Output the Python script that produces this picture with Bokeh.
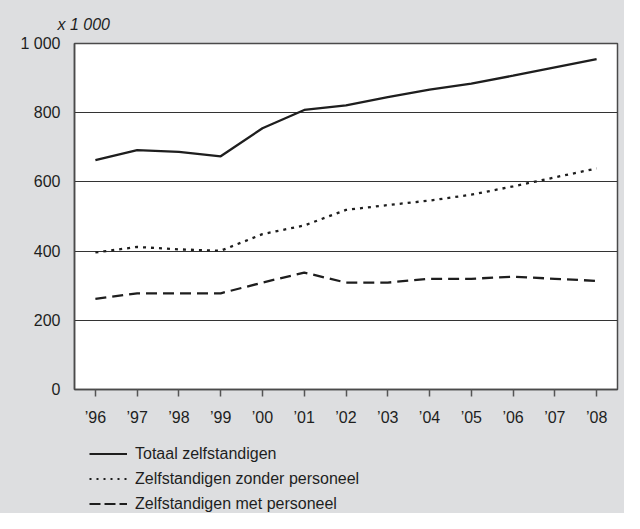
from bokeh.plotting import figure
from bokeh.models import Range1d, FactorRange, Title, Legend, LegendItem, FixedTicker
from bokeh.layouts import column
from bokeh.embed import file_html
from bokeh.resources import INLINE

years = ["’96", "’97", "’98", "’99", "’00", "’01", "’02", "’03", "’04", "’05", "’06", "’07", "’08"]
totaal = [663, 692, 687, 674, 755, 808, 821, 845, 867, 884, 907, 931, 955]
zonder = [396, 412, 405, 401, 449, 474, 519, 533, 546, 563, 587, 613, 639]
met = [262, 278, 278, 278, 309, 338, 309, 309, 320, 320, 326, 320, 314]
y_ticks = [0, 200, 400, 600, 800, 1000]
y_labels = {0: "0", 200: "200", 400: "400", 600: "600", 800: "800", 1000: "1 000"}
legend_names = ["Totaal zelfstandigen", "Zelfstandigen zonder personeel", "Zelfstandigen met personeel"]
unit_text = "x 1 000"

FONT = "Liberation Sans"
BG = "#dddee0"
INK = "#1e1e1e"
NAN = float("nan")

p = figure(x_range=FactorRange(factors=years, range_padding=0),
           y_range=Range1d(0, 1000),
           frame_width=543, frame_height=346,
           min_border_left=74, min_border_right=7, min_border_top=43, min_border_bottom=43,
           output_backend="svg", toolbar_location=None)
p.border_fill_color = BG
p.background_fill_color = "white"
p.outline_line_color = "#4a4a4a"
p.outline_line_width = 1.5

# axes
p.xaxis.axis_line_color = "#4a4a4a"
p.xaxis.axis_line_width = 1.5
p.xaxis.major_tick_line_color = "#555555"
p.xaxis.major_tick_line_width = 1.5
p.xaxis.major_tick_in = 0
p.xaxis.major_tick_out = 7
p.xaxis.minor_tick_line_color = None
p.xaxis.major_label_standoff = 12
p.xaxis.major_label_text_font = FONT
p.xaxis.major_label_text_font_size = "16px"
p.xaxis.major_label_text_color = INK

p.yaxis.ticker = FixedTicker(ticks=y_ticks)
p.yaxis.major_label_overrides = y_labels
p.yaxis.axis_line_color = "#4a4a4a"
p.yaxis.axis_line_width = 1.5
p.yaxis.major_tick_line_color = None
p.yaxis.minor_tick_line_color = None
p.yaxis.major_label_standoff = 8
p.yaxis.major_label_text_font = FONT
p.yaxis.major_label_text_font_size = "16px"
p.yaxis.major_label_text_color = INK

p.xgrid.grid_line_color = None
p.ygrid.ticker = FixedTicker(ticks=[200, 400, 600, 800])
p.ygrid.grid_line_color = "#333333"
p.ygrid.grid_line_width = 1

p.line(years, totaal, line_color=INK, line_width=2.3)
p.line(years, zonder, line_color=INK, line_width=2.3, line_dash="3 5")
p.line(years, met, line_color=INK, line_width=2.3, line_dash="11 6")

p.add_layout(Title(text=unit_text, align="left", offset=-17, standoff=21,
                   text_font=FONT, text_font_size="16px", text_font_style="italic",
                   text_color=INK), "above")

# legend panel (frame aligned with the chart frame)
leg = figure(frame_width=543, height=81, x_range=Range1d(0, 1), y_range=Range1d(0, 1),
             min_border_left=74, min_border_right=7, min_border_top=0, min_border_bottom=0,
             x_axis_location=None, y_axis_location=None,
             output_backend="svg", toolbar_location=None)
leg.border_fill_color = BG
leg.background_fill_color = BG
leg.outline_line_color = None
leg.xgrid.visible = False
leg.ygrid.visible = False

l1 = leg.line(x=[NAN], y=[NAN], line_color=INK, line_width=2)
l2 = leg.line(x=[NAN], y=[NAN], line_color=INK, line_width=2, line_dash="2 5")
l3 = leg.line(x=[NAN], y=[NAN], line_color=INK, line_width=2, line_dash="11 4")

legend = Legend(items=[LegendItem(label=legend_names[0], renderers=[l1]),
                       LegendItem(label=legend_names[1], renderers=[l2]),
                       LegendItem(label=legend_names[2], renderers=[l3])],
                location=(15, 0), orientation="vertical",
                glyph_width=38, glyph_height=19, label_height=19, spacing=6,
                label_standoff=8, padding=0, margin=0,
                border_line_color=None, background_fill_alpha=0,
                label_text_font=FONT, label_text_font_size="16px",
                label_text_color=INK)
leg.add_layout(legend, "center")

layout = column(p, leg, spacing=0, styles={"background-color": BG})
open("out.html", "w").write(file_html(layout, INLINE))
